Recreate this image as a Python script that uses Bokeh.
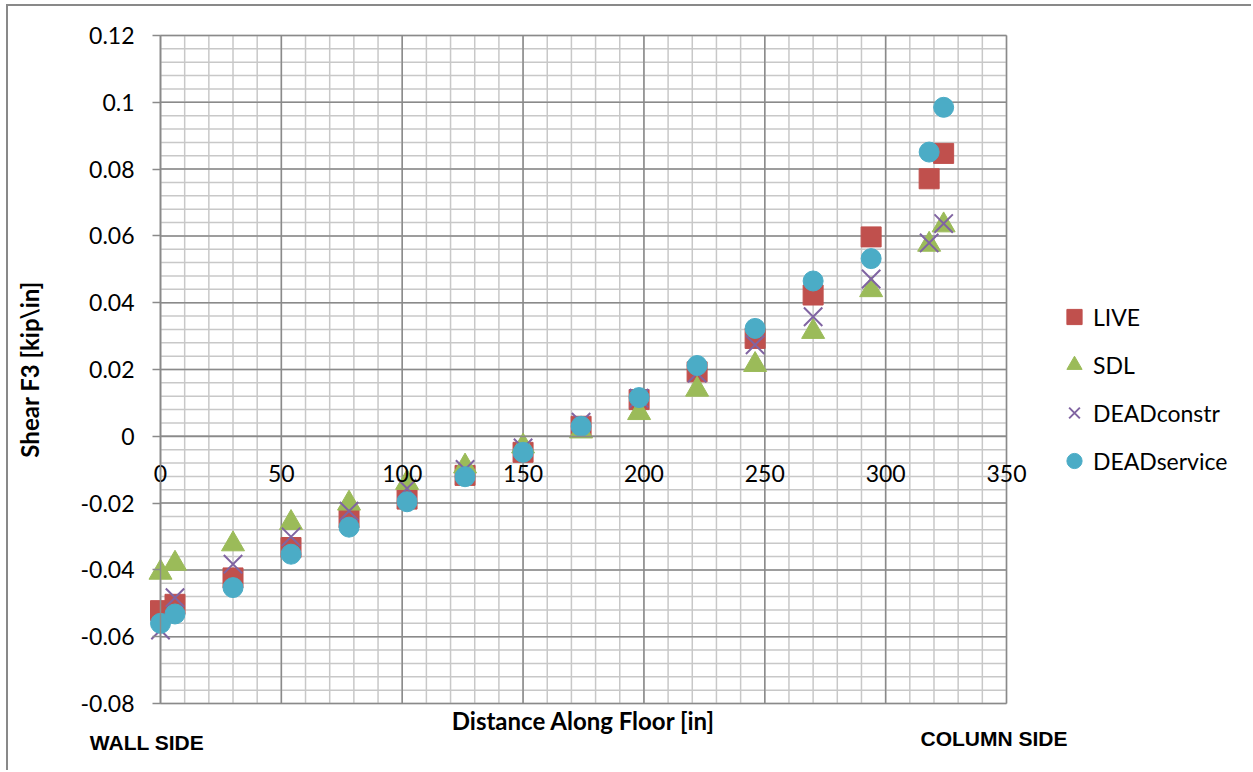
from bokeh.plotting import figure
from bokeh.models import Range1d, FixedTicker, Legend, LegendItem, Label, ColumnDataSource
from bokeh.embed import file_html
from bokeh.resources import INLINE

# ---- data ----
distance = [0, 6, 30, 54, 78, 102, 126, 150, 174, 198, 222, 246, 270, 294, 318, 324]
live = [-0.0522, -0.0503, -0.0424, -0.0333, -0.0244, -0.0188, -0.0117, -0.0048,
        0.0030, 0.0110, 0.0193, 0.0293, 0.0423, 0.0597, 0.0771, 0.0847]
sdl = [-0.0408, -0.0381, -0.0323, -0.0259, -0.0201, -0.0139, -0.0090, -0.0030,
       0.0015, 0.0070, 0.0140, 0.0214, 0.0313, 0.0438, 0.0574, 0.0632]
dead_constr = [-0.0580, -0.0483, -0.0383, -0.0301, -0.0224, -0.0156, -0.0099, -0.0035,
               0.0042, 0.0114, 0.0189, 0.0274, 0.0358, 0.0471, 0.0579, 0.0637]
dead_service = [-0.0560, -0.0532, -0.0453, -0.0353, -0.0272, -0.0196, -0.0121, -0.0048,
                0.0030, 0.0116, 0.0212, 0.0323, 0.0465, 0.0532, 0.0851, 0.0985]
series_names = ["LIVE", "SDL", "DEADconstr", "DEADservice"]

x_ticks = [0, 50, 100, 150, 200, 250, 300, 350]
x_minor = list(range(0, 351, 10))
y_ticks = [-0.08, -0.06, -0.04, -0.02, 0, 0.02, 0.04, 0.06, 0.08, 0.1, 0.12]
y_labels = ["-0.08", "-0.06", "-0.04", "-0.02", "0", "0.02", "0.04", "0.06", "0.08", "0.1", "0.12"]
y_minor = [round(-0.08 + 0.004 * i, 3) for i in range(51)]

# ---- layout constants (screen pixels) ----
FONT = "Lato"
MAJOR = "#8a8a8a"
MINOR = "#c8c8c8"
CX0, CY0 = 8, 6            # canvas origin on the page
W, H = 1245, 766           # canvas size
PL, PR, PT, PB = 160, 1006, 35, 703   # plot-area edges on the page

xs = (PR - PL) / (x_ticks[-1] - x_ticks[0])
ys = (PB - PT) / (y_ticks[-1] - y_ticks[0])
x_start = x_ticks[0] - (PL - CX0) / xs
x_end = x_ticks[-1] + (CX0 + W - PR) / xs
y_end = y_ticks[-1] + (PT - CY0) / ys
y_start = y_ticks[0] - (CY0 + H - PB) / ys

p = figure(width=W, height=H, output_backend="svg", toolbar_location=None,
           x_range=Range1d(x_start, x_end), y_range=Range1d(y_start, y_end),
           min_border=0)
p.styles = {"margin-left": "6px", "margin-top": "4px",
            "border-left": "2px solid #898989", "border-top": "2px solid #898989"}
p.background_fill_color = "white"
p.border_fill_color = "white"
p.outline_line_color = None
p.grid.visible = False

# ---- grid lines limited to the plot area ----
nx, ny = len(x_minor), len(y_minor)
p.segment(x0=x_minor, x1=x_minor, y0=[y_ticks[0]] * nx, y1=[y_ticks[-1]] * nx,
          line_color=MINOR, line_width=1.5)
p.segment(x0=[x_ticks[0]] * ny, x1=[x_ticks[-1]] * ny, y0=y_minor, y1=y_minor,
          line_color=MINOR, line_width=1.5)
p.segment(x0=x_ticks, x1=x_ticks, y0=[y_ticks[0]] * len(x_ticks), y1=[y_ticks[-1]] * len(x_ticks),
          line_color=MAJOR, line_width=1.5)
p.segment(x0=[x_ticks[0]] * len(y_ticks), x1=[x_ticks[-1]] * len(y_ticks), y0=y_ticks, y1=y_ticks,
          line_color=MAJOR, line_width=1.5)

# ---- x axis crossing at y = 0 ----
xax = p.xaxis[0]
xax.ticker = FixedTicker(ticks=x_ticks)
xax.fixed_location = 0
xax.bounds = (x_ticks[0], x_ticks[-1])
xax.axis_line_color = MAJOR
xax.axis_line_width = 1.5
xax.major_tick_out = 0
xax.major_tick_in = 0
xax.minor_tick_out = 0
xax.minor_tick_in = 0
xax.major_label_standoff = 29
xax.major_label_text_font = FONT
xax.major_label_text_font_size = "23px"
xax.major_label_text_color = "black"

# ---- y axis at x = 0 ----
yax = p.yaxis[0]
yax.ticker = FixedTicker(ticks=y_ticks)
yax.fixed_location = 0
yax.bounds = (y_ticks[0], y_ticks[-1])
yax.major_label_overrides = {t: l for t, l in zip(y_ticks, y_labels)}
yax.axis_line_color = MAJOR
yax.axis_line_width = 1.5
yax.major_tick_line_color = MAJOR
yax.major_tick_line_width = 1.5
yax.major_tick_out = 8
yax.major_tick_in = 0
yax.minor_tick_out = 0
yax.minor_tick_in = 0
yax.major_label_standoff = 18
yax.major_label_text_font = FONT
yax.major_label_text_font_size = "23px"
yax.major_label_text_color = "black"
yax.axis_label = "Shear F3 [kip\\in]"
yax.axis_label_text_font = FONT
yax.axis_label_text_font_style = "bold"
yax.axis_label_text_font_size = "24px"
yax.axis_label_text_color = "black"
yax.axis_label_standoff = 34

# ---- series ----
src = ColumnDataSource(dict(x=distance, live=live, sdl=sdl, dc=dead_constr, ds=dead_service))
r_live = p.scatter("x", "live", source=src, marker="square", size=20,
                   fill_color="#C0504D", line_color="#C0504D")
r_sdl = p.scatter("x", "sdl", source=src, marker="triangle", size=23,
                  fill_color="#9BBB59", line_color="#9BBB59")
r_dc = p.scatter("x", "dc", source=src, marker="x", size=26,
                 line_color="#8064A2", line_width=2)
r_ds = p.scatter("x", "ds", source=src, marker="circle", size=20,
                 fill_color="#4BACC6", line_color="#4BACC6")

legend = Legend(items=[LegendItem(label=n, renderers=[r]) for n, r in
                       zip(series_names, [r_live, r_sdl, r_dc, r_ds])],
                location=(1047, 291), orientation="vertical",
                border_line_color=None, background_fill_alpha=0,
                padding=0, margin=0, spacing=7,
                glyph_width=38, glyph_height=41, label_standoff=0,
                label_text_font=FONT, label_text_font_size="23px",
                label_text_color="black", label_height=41)
p.add_layout(legend, "center")

# ---- free texts (screen units, origin at the canvas' bottom-left) ----
def page_to_canvas(px, py):
    return px - CX0, (CY0 + H) - py

tx, ty = page_to_canvas(583, 720)
p.add_layout(Label(x=tx, y=ty, x_units="screen", y_units="screen",
                   text="Distance Along Floor [in]", text_align="center", text_baseline="middle",
                   text_font=FONT, text_font_style="bold", text_font_size="24px", text_color="black"))
tx, ty = page_to_canvas(146.5, 742)
p.add_layout(Label(x=tx, y=ty, x_units="screen", y_units="screen",
                   text="WALL SIDE", text_align="center", text_baseline="middle",
                   text_font="Liberation Sans", text_font_style="bold", text_font_size="21px",
                   text_color="black"))
tx, ty = page_to_canvas(993.5, 738)
p.add_layout(Label(x=tx, y=ty, x_units="screen", y_units="screen",
                   text="COLUMN SIDE", text_align="center", text_baseline="middle",
                   text_font="Liberation Sans", text_font_style="bold", text_font_size="21px",
                   text_color="black"))

open("out.html", "w").write(file_html(p, INLINE))
